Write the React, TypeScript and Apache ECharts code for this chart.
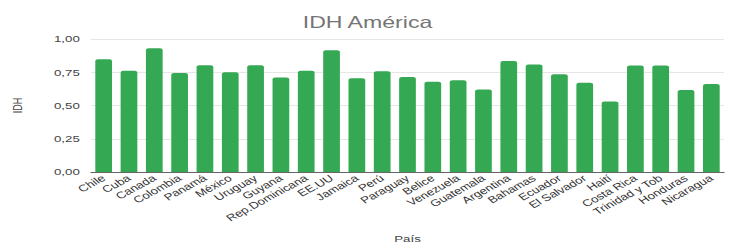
import React, { useEffect, useRef } from "react";
import * as echarts from "echarts";

const countries = [
  "Chile", "Cuba", "Canada", "Colombia", "Panamá", "México", "Uruguay", "Guyana",
  "Rep.Dominicana", "EE.UU", "Jamaica", "Perú", "Paraguay", "Belice", "Venezuela",
  "Guatemala", "Argentina", "Bahamas", "Ecuador", "El Salvador", "Haití", "Costa Rica",
  "Trinidad y Tob", "Honduras", "Nicaragua",
];

const idhValues = [
  0.848, 0.762, 0.931, 0.745, 0.803, 0.75, 0.803, 0.71,
  0.762, 0.916, 0.705, 0.757, 0.715, 0.678, 0.69,
  0.621, 0.835, 0.808, 0.735, 0.671, 0.531, 0.801,
  0.801, 0.617, 0.661,
];

const yTicks = [0, 0.25, 0.5, 0.75, 1];

const FONT = "'Liberation Sans', Arial, sans-serif";
// The reference image is stretched horizontally; render narrower and stretch.
const STRETCH = 1.4;
const W = 735 / STRETCH;

export default function App() {
  const ref = useRef<HTMLDivElement>(null);

  useEffect(() => {
    if (!ref.current) return;
    const chart = echarts.init(ref.current, undefined, { renderer: "svg" });
    chart.setOption({
      animation: false,
      backgroundColor: "#ffffff",
      textStyle: { fontFamily: FONT },
      title: {
        text: "IDH América",
        left: "center",
        top: 9,
        textStyle: { fontSize: 16.5, fontWeight: "normal", color: "#757575", fontFamily: FONT },
      },
      grid: { left: 91 / STRETCH, right: 11 / STRETCH, top: 39, bottom: 74, containLabel: false },
      xAxis: {
        type: "category",
        data: countries,
        name: "País",
        nameLocation: "middle",
        nameGap: 62,
        nameTextStyle: { fontSize: 9.5, color: "#444", fontFamily: FONT },
        axisTick: { show: false },
        axisLine: { lineStyle: { color: "#666", width: 1 } },
        axisLabel: {
          interval: 0,
          rotate: 37,
          fontSize: 9.5,
          color: "#333",
          margin: 5,
          fontFamily: FONT,
        },
      },
      yAxis: {
        type: "value",
        min: yTicks[0],
        max: yTicks[yTicks.length - 1],
        interval: 0.25,
        name: "IDH",
        nameLocation: "middle",
        nameRotate: 90,
        nameGap: 48,
        nameTextStyle: { fontSize: 9, color: "#444", fontFamily: FONT },
        axisLine: { show: false },
        axisTick: { show: false },
        splitLine: { lineStyle: { color: "#e6e6e6", width: 1 } },
        axisLabel: {
          fontSize: 9.5,
          color: "#444",
          margin: 8,
          fontFamily: FONT,
          formatter: (v: number) => v.toFixed(2).replace(".", ","),
        },
      },
      series: [
        {
          type: "bar",
          data: idhValues,
          barCategoryGap: "34%",
          itemStyle: { color: "#34a853", borderRadius: [2, 2, 0, 0] },
        },
      ],
    });
    return () => chart.dispose();
  }, []);

  return (
    <div style={{ position: "fixed", left: 0, top: 0, width: 735, height: 249, overflow: "hidden" }}>
      <div
        ref={ref}
        style={{
          width: W,
          height: 249,
          transform: `scaleX(${STRETCH})`,
          transformOrigin: "0 0",
        }}
      />
    </div>
  );
}
